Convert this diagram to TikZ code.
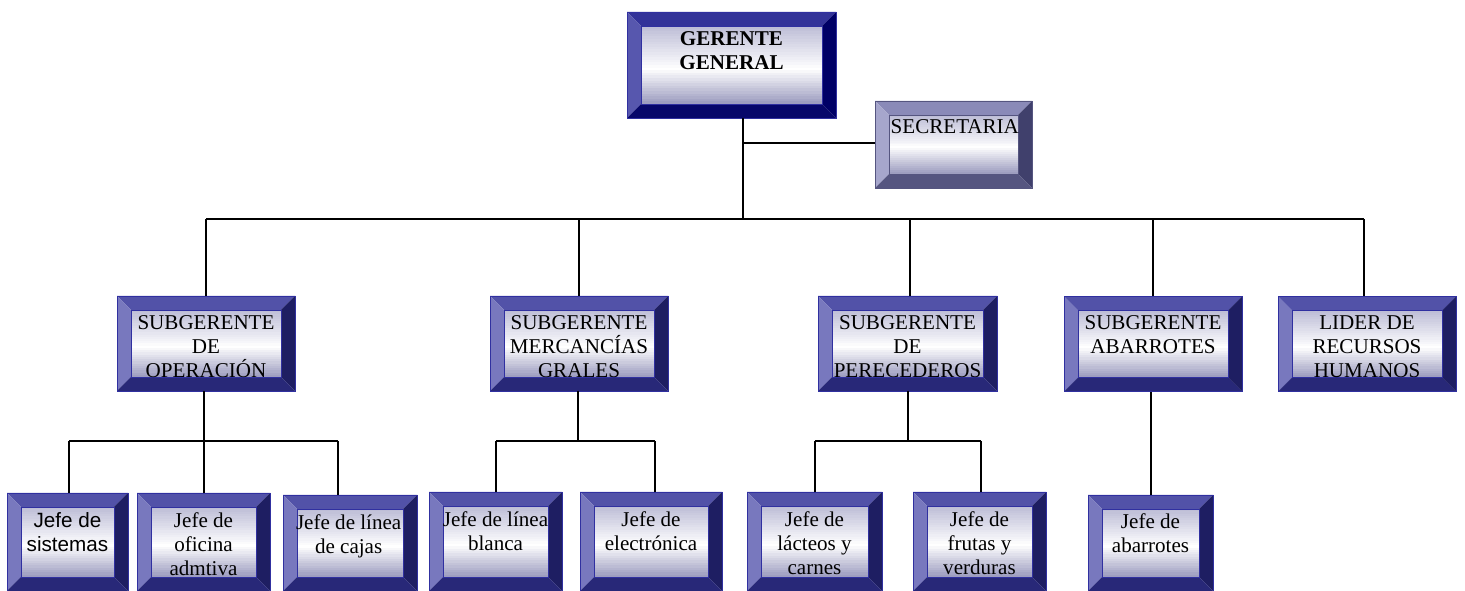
\documentclass[tikz,border=0pt]{standalone}
\usepackage{fontspec}
\setmainfont{Liberation Serif}
\newfontfamily\arialf{Liberation Sans}
\usetikzlibrary{calc}
\definecolor{gTop}{HTML}{333399}
\definecolor{gLeft}{HTML}{5757AE}
\definecolor{gRight}{HTML}{000066}
\definecolor{gBot}{HTML}{07076A}
\definecolor{nTop}{HTML}{5252A8}
\definecolor{nLeft}{HTML}{7878BE}
\definecolor{nRight}{HTML}{1E1E62}
\definecolor{nBot}{HTML}{282878}
\definecolor{sTop}{HTML}{8A8AB8}
\definecolor{sLeft}{HTML}{A6A6CC}
\definecolor{sRight}{HTML}{40406C}
\definecolor{sBot}{HTML}{555580}
\definecolor{edgeC}{HTML}{3030A0}
\definecolor{faceTop}{HTML}{BCBCD6}
\definecolor{faceBot}{HTML}{9A9ABE}
\newlength\bv
\setlength\bv{10.5pt}
\newcommand\bevelpic[5]{%
  \coordinate (pnw) at (path picture bounding box.north west);
  \coordinate (pne) at (path picture bounding box.north east);
  \coordinate (psw) at (path picture bounding box.south west);
  \coordinate (pse) at (path picture bounding box.south east);
  \coordinate (qnw) at ($(pnw)+(\bv,-\bv)$);
  \coordinate (qne) at ($(pne)+(-\bv,-\bv)$);
  \coordinate (qsw) at ($(psw)+(\bv,\bv)$);
  \coordinate (qse) at ($(pse)+(-\bv,\bv)$);
  \fill[#1] (pnw) -- (pne) -- (qne) -- (qnw) -- cycle;
  \fill[#2] (pnw) -- (qnw) -- (qsw) -- (psw) -- cycle;
  \fill[#3] (pne) -- (pse) -- (qse) -- (qne) -- cycle;
  \fill[#4] (psw) -- (qsw) -- (qse) -- (pse) -- cycle;
  \foreach \i in {0,...,29}{%
    \pgfmathsetmacro\ta{\i/30}%
    \pgfmathsetmacro\tb{min(1,(\i+1.4)/30)}%
    \pgfmathsetmacro\tm{(\i+0.5)/30}%
    \pgfmathsetmacro\pc{\tm<0.55 ? 100*(1-\tm/0.55) : 0}%
    \pgfmathsetmacro\pd{\tm<0.55 ? 0 : 100*(\tm-0.55)/0.45}%
    \fill[color=faceBot!\pd!faceTop, opacity=1, fill=faceBot!\pd!white] ($(qnw)!\ta!(qsw)$) rectangle ($(qne)!\tb!(qse)$);
    \fill[fill=faceTop, opacity=\pc/100] ($(qnw)!\ta!(qsw)$) rectangle ($(qne)!\tb!(qse)$);
  }
  \draw[#5, line width=0.5pt] (qnw) rectangle (qse);
}
\tikzset{
  bx/.style 2 args={rectangle, inner sep=0pt, minimum width=#1*0.75pt, minimum height=#2*0.75pt, draw=edgeC, line width=0.6pt},
  gbox/.style={path picture={\bevelpic{gTop}{gLeft}{gRight}{gBot}{edgeC}}},
  nbox/.style={path picture={\bevelpic{nTop}{nLeft}{nRight}{nBot}{edgeC}}},
  sbox/.style={draw=sBot, path picture={\bevelpic{sTop}{sLeft}{sRight}{sBot}{sBot}}},
  txt/.style={font=\fontsize{15.8}{18}\selectfont, align=center, inner sep=0pt, anchor=north},
  conn/.style={draw=black, line width=1.3pt},
}
\begin{document}
\begin{tikzpicture}[x=0.75pt, y=-0.75pt]
\useasboundingbox (0,0) rectangle (1465,591);

\coordinate (j0) at (743,219);
\coordinate (js) at (743,143);
\coordinate (bL) at (206,219);
\coordinate (bR) at (1364,219);
\coordinate (d2) at (579,219);
\coordinate (d3) at (910,219);
\coordinate (d4) at (1153,219);

% boxes
\node[bx={209}{106}, gbox] (gg) at (731.5,65) {};
\node[bx={157}{87}, sbox] (sec) at (953.5,144.5) {};

\node[bx={178}{95}, nbox] (op) at (206,343.5) {};
\node[bx={178}{95}, nbox] (me) at (579,343.5) {};
\node[bx={179}{95}, nbox] (pe) at (907.5,343.5) {};
\node[bx={178}{95}, nbox] (ab) at (1153,344) {};
\node[bx={178}{95}, nbox] (li) at (1367,344) {};

\node[bx={121}{98}, nbox] (si) at (67.5,542) {};
\node[bx={133}{98}, nbox] (of) at (203.5,542) {};
\node[bx={134}{96}, nbox] (ca) at (350,543) {};
\node[bx={133}{99}, nbox] (lb) at (495.5,541.5) {};
\node[bx={142}{99}, nbox] (el) at (651,541.5) {};
\node[bx={135}{99}, nbox] (la) at (814.5,541.5) {};
\node[bx={133}{99}, nbox] (fr) at (979.5,541.5) {};
\node[bx={125}{96}, nbox] (ja) at (1150.5,543) {};

\coordinate (k1) at (204,441);
\coordinate (k1l) at (69,441);
\coordinate (k1r) at (338,441);
\coordinate (k2) at (578,441);
\coordinate (k2l) at (496,441);
\coordinate (k2r) at (655,441);
\coordinate (k3) at (908,441);
\coordinate (k3l) at (815,441);
\coordinate (k3r) at (981,441);
\coordinate (k4) at (1151,441);

% connectors
\draw[conn] (gg.south -| j0) -- (j0);
\draw[conn] (js) -- (js -| sec.west);
\draw[conn] (bL) -- (bR);
\draw[conn] (bL) -- (bL |- op.north);
\draw[conn] (d2) -- (d2 |- me.north);
\draw[conn] (d3) -- (d3 |- pe.north);
\draw[conn] (d4) -- (d4 |- ab.north);
\draw[conn] (bR) -- (bR |- li.north);

\draw[conn] (op.south -| k1) -- (k1);
\draw[conn] (k1l) -- (k1r);
\draw[conn] (k1l) -- (k1l |- si.north);
\draw[conn] (k1) -- (k1 |- of.north);
\draw[conn] (k1r) -- (k1r |- ca.north);

\draw[conn] (me.south -| k2) -- (k2);
\draw[conn] (k2l) -- (k2r);
\draw[conn] (k2l) -- (k2l |- lb.north);
\draw[conn] (k2r) -- (k2r |- el.north);

\draw[conn] (pe.south -| k3) -- (k3);
\draw[conn] (k3l) -- (k3r);
\draw[conn] (k3l) -- (k3l |- la.north);
\draw[conn] (k3r) -- (k3r |- fr.north);

\draw[conn] (ab.south -| k4) -- (k4 |- ja.north);

% texts
\node[txt, font=\fontsize{15.8}{18}\selectfont\bfseries] (ggT) at ([yshift=-15pt]gg.north) {GERENTE\\GENERAL};
\node[txt] (secT) at ([yshift=-14pt,xshift=1pt]sec.north) {SECRETARIA};
\node[txt] (opT) at ([yshift=-14.5pt]op.north) {SUBGERENTE\\DE\\OPERACIÓN};
\node[txt] (meT) at ([yshift=-14.5pt]me.north) {SUBGERENTE\\MERCANCÍAS\\GRALES};
\node[txt] (peT) at ([yshift=-14.5pt]pe.north) {SUBGERENTE\\DE\\PERECEDEROS};
\node[txt] (abT) at ([yshift=-14.5pt]ab.north) {SUBGERENTE\\ABARROTES};
\node[txt] (liT) at ([yshift=-14.5pt]li.north) {LIDER DE\\RECURSOS\\HUMANOS};

\node[txt, font=\fontsize{15.5}{18}\arialf] (siT) at ([yshift=-15pt]si.north) {Jefe de\\sistemas};
\node[txt] (ofT) at ([yshift=-15pt]of.north) {Jefe de\\oficina\\admtiva};
\node[txt] (caT) at ([yshift=-14.5pt,xshift=-1pt]ca.north) {Jefe de línea\\de cajas};
\node[txt] (lbT) at ([yshift=-15pt]lb.north) {Jefe de línea\\blanca};
\node[txt] (elT) at ([yshift=-15pt]el.north) {Jefe de\\electrónica};
\node[txt] (laT) at ([yshift=-15pt]la.north) {Jefe de\\lácteos y\\carnes};
\node[txt] (frT) at ([yshift=-15pt]fr.north) {Jefe de\\frutas y\\verduras};
\node[txt] (jaT) at ([yshift=-14pt]ja.north) {Jefe de\\abarrotes};
\end{tikzpicture}
\end{document}
